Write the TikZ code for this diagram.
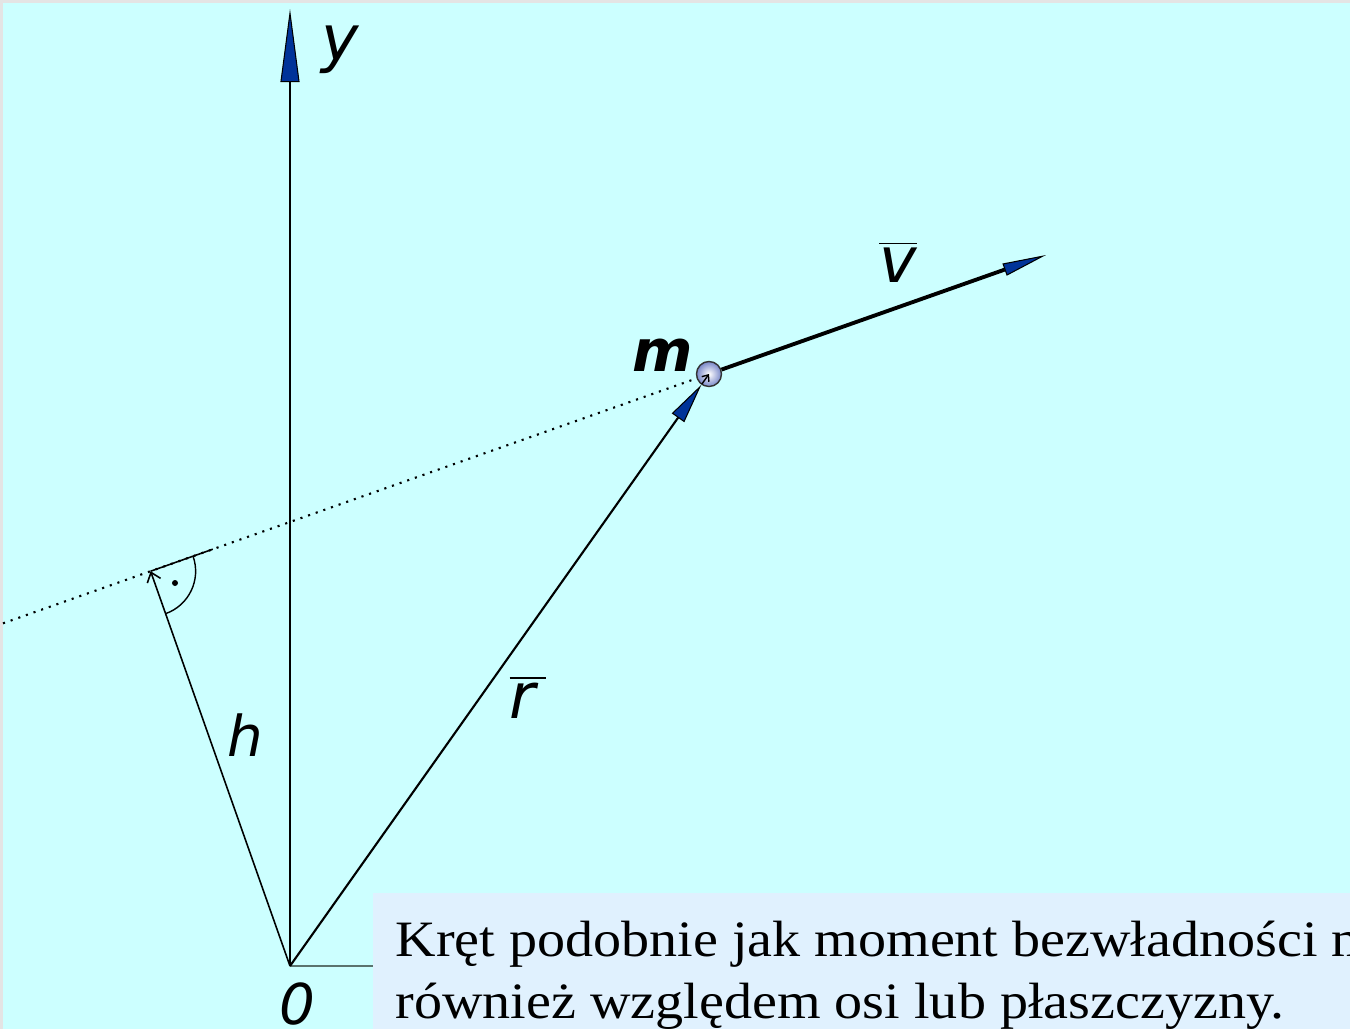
\documentclass[tikz,border=0pt]{standalone}
\usepackage{fontspec}
\setsansfont{DejaVu Sans}
\newfontfamily\boxfont[FakeStretch=1.1]{Liberation Serif}
\usetikzlibrary{arrows.meta,calc}
\definecolor{bgcyan}{RGB}{204,255,255}
\definecolor{boxblue}{RGB}{224,241,254}
\definecolor{tipblue}{RGB}{0,51,153}
\definecolor{framegray}{RGB}{228,228,228}
\definecolor{axisgray}{RGB}{90,115,110}
\definecolor{ballout}{RGB}{120,135,200}
\begin{document}
\begin{tikzpicture}[x=0.01cm,y=-0.01cm,
  lbl/.style={font=\sffamily\itshape\fontsize{18}{18}\selectfont, inner sep=0pt},
  lblsmall/.style={font=\sffamily\itshape\fontsize{16}{16}\selectfont, inner sep=0pt},
  boxtext/.style={font=\boxfont\fontsize{14.5}{14.5}\selectfont, inner sep=0pt, anchor=base west},
  thinline/.style={line width=0.35pt},
  ytip/.style={-{Triangle[length=20.8pt,width=5.4pt,fill=tipblue,line width=0.3pt]}},
  rtip/.style={-{Triangle[length=11.5pt,width=4.3pt,fill=tipblue,line width=0.3pt]}},
  vtip/.style={-{Triangle[length=12.5pt,width=3.6pt,fill=tipblue,line width=0.3pt]}},
  htip/.style={-{Straight Barb[length=2.5pt,width=4pt]}},
  dotline/.style={line width=0.6pt, dash pattern=on 0.6pt off 1.7pt}
]
\useasboundingbox (0,0) rectangle (1350,1029);
\clip (0,0) rectangle (1350,1029);
\fill[framegray] (0,0) rectangle (1350,1029);
\fill[bgcyan] (3,3) rectangle (1350,1029);

% points
\coordinate (O) at (290,966);
\coordinate (Y) at (290,9);
\coordinate (V) at (1046,255);
\coordinate (H) at (150.6,571.2);
\coordinate (L) at (3,623.3);
\coordinate (RA) at (212.8,549.2);
\coordinate (X) at (373,966);

% horizontal axis stub
\draw[axisgray, line width=0.6pt] (O) -- (X);

% y axis
\draw[thinline, ytip] (O) -- (Y);
\node[lbl] (ylab) at (340,50) {y};

% dotted line of action
\draw[dotline] (L) -- (709,374);

% mass
\node[circle, draw=black!80, line width=0.4pt, minimum size=0.25cm, inner sep=0pt,
      inner color=white, outer color=ballout] (m) at (709,374) {};
\node[font=\sffamily\bfseries\itshape\fontsize{16.5}{16.5}\selectfont, inner sep=0pt] (mlab) at (663,355) {m};

% r vector
\draw[line width=0.6pt, rtip] (O) -- (m);
\draw[line width=0.4pt, -{Straight Barb[length=1.5pt,width=2.5pt]}] ($(m.center)!0.125cm!(O)$) coordinate (mb) -- (m.center);
\node[lbl] (rlab) at (528,697) {\ensuremath{\overline{\mbox{\sffamily\itshape r\,}}}};

% v vector
\draw[line width=1.1pt, vtip] (m) -- (V);
\node[lbl] (vlab) at (898,262) {\ensuremath{\overline{\mbox{\sffamily\itshape v}}}};

% h arm
\draw[line width=0.45pt, htip] (O) -- (H);
\node[lblsmall] (hlab) at (245,735) {h};

% right angle mark
\draw[line width=0.45pt] (H) -- (RA);
\draw[line width=0.4pt] ($(H)+(19.45:0.45cm)$) arc[start angle=19.45, end angle=-70.55, radius=0.45cm];
\fill (175,583) circle[radius=0.03cm];

% origin label
\node[lblsmall] (olab) at (297,1004) {0};

% text box
\fill[boxblue] (373,893) rectangle (1350,1029);
\node[boxtext] (t1) at (395,956) {Kręt podobnie jak moment bezwładności m};
\node[boxtext] (t2) at (395,1018) {również względem osi lub płaszczyzny.};
\end{tikzpicture}
\end{document}
